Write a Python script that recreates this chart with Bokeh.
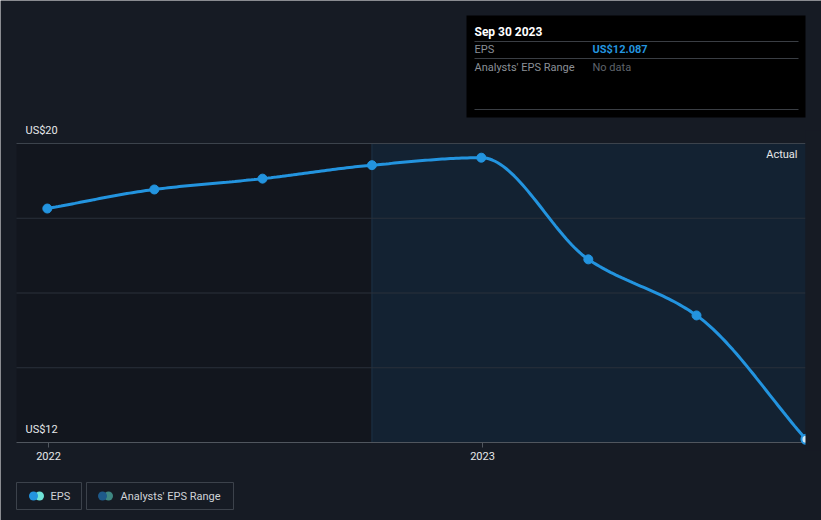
import numpy as np
from datetime import datetime
from bokeh.plotting import figure
from bokeh.models import Range1d, Label
from bokeh.embed import file_html
from bokeh.resources import INLINE

# ---- data ----
dates = ["2021-12-31", "2022-03-31", "2022-06-30", "2022-09-30",
         "2022-12-31", "2023-03-31", "2023-06-30", "2023-09-30"]
eps = [18.26, 18.77, 19.06, 19.42, 19.62, 16.90, 15.40, 12.087]
y_ticks = [12, 20]
y_tick_labels = ["US$12", "US$20"]
x_ticks = ["2022-01-01", "2023-01-01"]
x_tick_labels = ["2022", "2023"]
actual_start = "2022-09-30"
tip_date = "Sep 30 2023"
tip_value = "US$12.087"

W, H = 821, 520
OFF = 0  # canvas origin in page px
DAY = 86400000.0

def ms(s):
    return (datetime.strptime(s, "%Y-%m-%d") - datetime(1970, 1, 1)).total_seconds() * 1000.0

X0 = ms("2022-01-01")
PX_X0 = 48.0               # page px of 2022-01-01
MS_PER_PX = 365 * DAY / 434.0
PX_Y20 = 143.0
PX_PER_UNIT = 299.0 / 8.0

def xpx(px):   # page px -> data x
    return X0 + (px - PX_X0) * MS_PER_PX

def ypx(py):   # page px -> data y
    return 20 - (py - PX_Y20) / PX_PER_UNIT

xs = np.array([ms(d) for d in dates])
ys = np.array(eps)

# monotone cubic (Fritsch-Carlson) rendering of the line through the points
def monotone(x, y, n=40):
    h = np.diff(x); d = np.diff(y) / h
    m = np.zeros_like(y)
    m[0] = d[0]; m[-1] = d[-1]
    for i in range(1, len(y) - 1):
        if d[i - 1] * d[i] <= 0:
            m[i] = 0
        else:
            w1 = 2 * h[i] + h[i - 1]; w2 = h[i] + 2 * h[i - 1]
            m[i] = (w1 + w2) / (w1 / d[i - 1] + w2 / d[i])
    ox, oy = [], []
    for i in range(len(x) - 1):
        t = np.linspace(0, 1, n)
        h00 = 2*t**3 - 3*t**2 + 1; h10 = t**3 - 2*t**2 + t
        h01 = -2*t**3 + 3*t**2; h11 = t**3 - t**2
        ox.extend(x[i] + t * h[i])
        oy.extend(h00*y[i] + h10*h[i]*m[i] + h01*y[i+1] + h11*h[i]*m[i+1])
    return ox, oy

cx, cy = monotone(xs, ys)

BG = "#161b24"
p = figure(width=W, height=H, output_backend="svg", toolbar_location=None,
           x_range=Range1d(xpx(OFF), xpx(OFF + W)), y_range=Range1d(ypx(OFF + H), ypx(OFF)),
           min_border=0, background_fill_color=BG, border_fill_color=BG,
           outline_line_color=None)
p.axis.visible = False
p.grid.visible = False

FONT = "Roboto"
x_l, x_r = xpx(16), xpx(805)
y_top, y_bot = 20, 12
xa = ms(actual_start)

# regions
p.quad(left=[x_l], right=[xa], top=[y_top], bottom=[y_bot], fill_color="#12161e", line_color=None)
p.quad(left=[xa], right=[x_r], top=[y_top], bottom=[y_bot], fill_color="#132232", line_color=None)
p.segment(x0=[xa], x1=[xa], y0=[y_bot], y1=[y_top], line_color="#1d3247", line_width=1)

# gridlines
for g in [14, 16, 18]:
    p.segment(x0=[x_l], x1=[x_r], y0=[g], y1=[g], line_color="#2a313b", line_width=1)
p.segment(x0=[x_l], x1=[x_r], y0=[20], y1=[20], line_color="#3c434c", line_width=1)
p.segment(x0=[x_l], x1=[x_r], y0=[12], y1=[12], line_color="#50565e", line_width=1)

# x ticks
for t, lab in zip(x_ticks, x_tick_labels):
    tx = ms(t)
    p.segment(x0=[tx], x1=[tx], y0=[12], y1=[ypx(447)], line_color="#50565e")
    p.add_layout(Label(x=tx, y=ypx(455), text=lab, text_align="center", text_baseline="middle",
                       text_color="#e6e8ea", text_font=FONT, text_font_size="11px"))
# y labels
for v, lab in zip(y_ticks, y_tick_labels):
    p.add_layout(Label(x=xpx(25), y=v + 13 / PX_PER_UNIT, text=lab, text_align="left",
                       text_baseline="middle", text_color="#e6e8ea", text_font=FONT,
                       text_font_size="11px"))

p.add_layout(Label(x=xpx(797), y=ypx(154), text="Actual", text_align="right", text_baseline="middle",
                   text_color="#e6e8ea", text_font=FONT, text_font_size="11px"))

# EPS line
BLUE = "#2394df"
p.line(cx, cy, line_color=BLUE, line_width=3)
p.scatter(xs[:-1], ys[:-1], size=9, fill_color=BLUE, line_color=BLUE)
p.scatter(xs[-1:], ys[-1:], size=9, fill_color="#cfe8f7", line_color=BLUE, line_width=2)
# clip past plot edge
p.quad(left=[x_r], right=[xpx(W)], top=[ypx(130)], bottom=[ypx(450)], fill_color=BG, line_color=None)

# tooltip box
p.quad(left=[xpx(466)], right=[xpx(805)], top=[ypx(15)], bottom=[ypx(117)],
       fill_color="#000000", line_color=None)
for ly in [41, 58, 109]:
    p.segment(x0=[xpx(474)], x1=[xpx(798)], y0=[ypx(ly)], y1=[ypx(ly)], line_color="#3a3e44")
p.add_layout(Label(x=xpx(474), y=ypx(31), text=tip_date, text_baseline="middle", text_color="#ffffff",
                   text_font=FONT, text_font_size="12px", text_font_style="bold"))
p.add_layout(Label(x=xpx(474), y=ypx(49), text="EPS", text_baseline="middle", text_color="#8b9097",
                   text_font=FONT, text_font_size="11px"))
p.add_layout(Label(x=xpx(592), y=ypx(49), text=tip_value, text_baseline="middle", text_color=BLUE,
                   text_font=FONT, text_font_size="11px", text_font_style="bold"))
p.add_layout(Label(x=xpx(474), y=ypx(67), text="Analysts' EPS Range", text_baseline="middle",
                   text_color="#8b9097", text_font=FONT, text_font_size="11px"))
p.add_layout(Label(x=xpx(592), y=ypx(67), text="No data", text_baseline="middle",
                   text_color="#5f646b", text_font=FONT, text_font_size="11px"))

# legend
def legend_box(x0, x1, c1, c2, cxp, label, tx):
    p.quad(left=[xpx(x0)], right=[xpx(x1)], top=[ypx(482)], bottom=[ypx(509)],
           fill_color=BG, line_color="#3c424b", line_width=1)
    p.scatter([xpx(cxp + 6)], [ypx(495.5)], size=9, fill_color=c2, line_color=None)
    p.scatter([xpx(cxp)], [ypx(495.5)], size=9, fill_color=c1, line_color=None)
    p.add_layout(Label(x=xpx(tx), y=ypx(496), text=label, text_baseline="middle",
                       text_color="#d0d3d7", text_font=FONT, text_font_size="11px"))

legend_box(16, 81, "#2394df", "#6fe3d8", 33, "EPS", 50)
legend_box(86, 233, "#1e5a8a", "#3e8782", 102, "Analysts' EPS Range", 120)

open("out.html", "w").write(file_html(p, INLINE))
